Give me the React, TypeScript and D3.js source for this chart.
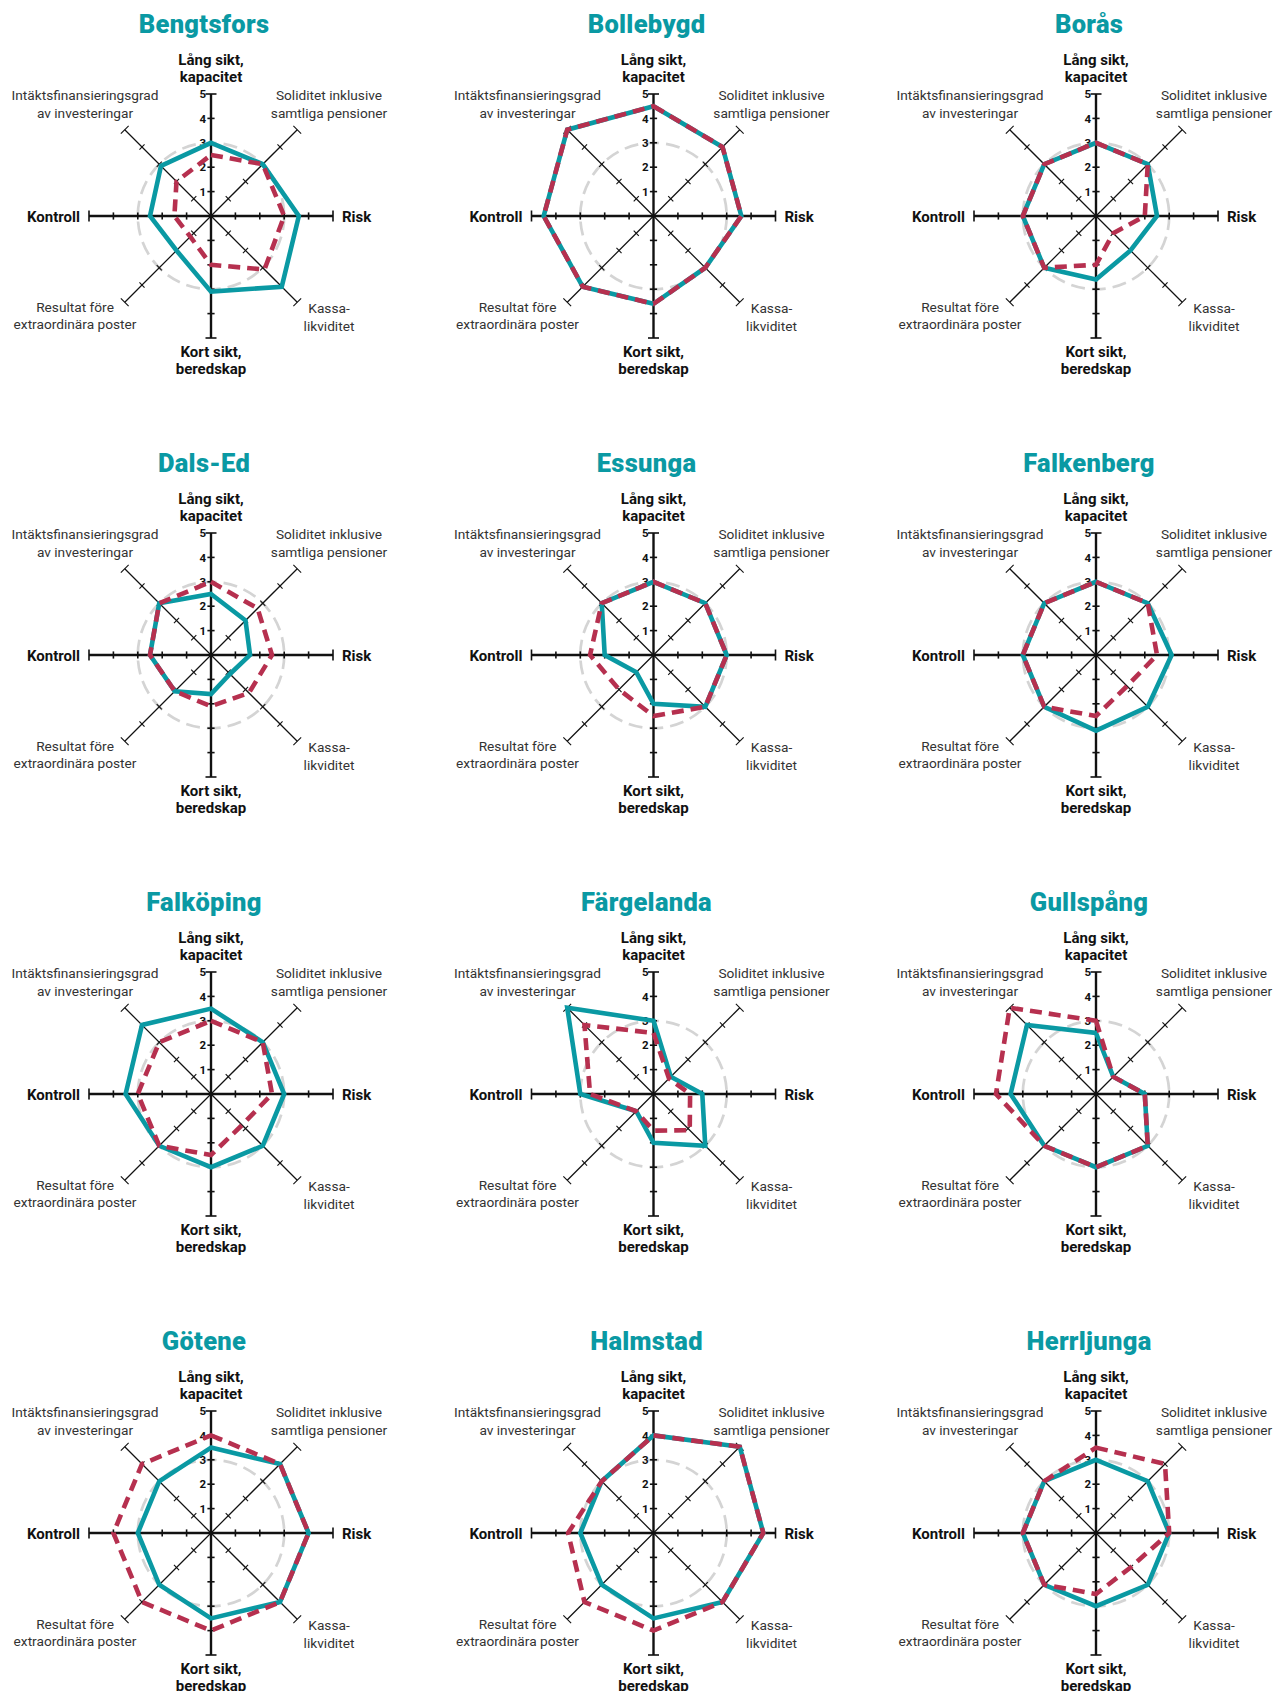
import React from 'react';
import * as d3 from 'd3';

// ---------- DATA ----------
const kommuner: string[] = [
  'Bengtsfors', 'Bollebygd', 'Borås',
  'Dals-Ed', 'Essunga', 'Falkenberg',
  'Falköping', 'Färgelanda', 'Gullspång',
  'Götene', 'Halmstad', 'Herrljunga',
];

// clockwise from top
const axisLabels: string[][] = [
  ['Lång sikt,', 'kapacitet'],
  ['Soliditet inklusive', 'samtliga pensioner'],
  ['Risk'],
  ['Kassa-', 'likviditet'],
  ['Kort sikt,', 'beredskap'],
  ['Resultat före', 'extraordinära poster'],
  ['Kontroll'],
  ['Intäktsfinansieringsgrad', 'av investeringar'],
];
const mainAxis: boolean[] = [true, false, true, false, true, false, true, false];

const tickValues: number[] = [1, 2, 3, 4, 5];
const referenceLevel = 3;
const maxValue = 5;

// solid teal series
const serieKommun: number[][] = [
  [3.0, 3.0, 3.6, 4.1, 3.1, 2.0, 2.5, 2.9], // Bengtsfors
  [4.5, 4.0, 3.6, 3.0, 3.6, 4.1, 4.5, 5.0], // Bollebygd
  [3.0, 3.0, 2.5, 2.0, 2.6, 3.0, 3.0, 3.0], // Borås
  [2.5, 2.0, 1.6, 1.1, 1.6, 2.1, 2.5, 3.0], // Dals-Ed
  [3.0, 3.0, 3.0, 3.0, 2.0, 1.0, 2.0, 3.0], // Essunga
  [3.0, 3.0, 3.1, 3.0, 3.1, 3.0, 3.0, 3.0], // Falkenberg
  [3.5, 3.0, 3.0, 3.0, 3.0, 3.0, 3.5, 4.0], // Falköping
  [3.0, 1.0, 2.0, 3.0, 2.0, 1.0, 3.0, 5.0], // Färgelanda
  [2.5, 1.0, 2.0, 3.0, 3.0, 3.0, 3.5, 4.0], // Gullspång
  [3.5, 4.0, 4.0, 4.0, 3.5, 3.0, 3.0, 3.0], // Götene
  [4.0, 5.0, 4.5, 4.0, 3.5, 3.0, 3.0, 3.0], // Halmstad
  [3.0, 3.0, 3.0, 3.0, 3.0, 3.0, 3.0, 3.0], // Herrljunga
];

// dashed red series
const serieJamforelse: number[][] = [
  [2.5, 3.0, 3.0, 3.1, 2.0, 1.2, 1.5, 2.0], // Bengtsfors
  [4.5, 4.0, 3.6, 3.0, 3.6, 4.1, 4.5, 5.0], // Bollebygd
  [3.0, 3.0, 2.0, 1.0, 2.0, 3.0, 3.0, 3.0], // Borås
  [3.0, 2.7, 2.5, 2.2, 2.1, 2.1, 2.5, 3.0], // Dals-Ed
  [3.0, 3.0, 3.0, 3.0, 2.5, 2.0, 2.6, 3.0], // Essunga
  [3.0, 3.0, 2.5, 1.8, 2.5, 3.0, 3.0, 3.0], // Falkenberg
  [3.0, 3.0, 2.5, 1.8, 2.5, 3.0, 3.0, 3.0], // Falköping
  [2.5, 0.9, 1.5, 2.1, 1.5, 1.0, 2.6, 4.0], // Färgelanda
  [3.0, 1.0, 2.0, 3.0, 3.0, 3.0, 4.1, 5.0], // Gullspång
  [4.0, 4.0, 4.0, 4.0, 4.0, 4.0, 4.0, 4.0], // Götene
  [4.0, 5.0, 4.5, 4.0, 4.0, 4.0, 3.5, 3.0], // Halmstad
  [3.5, 4.0, 3.0, 2.0, 2.5, 3.0, 3.0, 3.0], // Herrljunga
];

// ---------- LAYOUT ----------
const W = 1274;
const H = 1691;
const colX = [211, 653.5, 1096];
const rowY = [216, 655, 1094, 1533];
const R = 122;

const TEAL = '#0a99a3';
const RED = '#b6304f';
const FONT = 'Roboto, "Open Sans", sans-serif';

// label placement relative to the chart centre
const labelPlace = [
  { x: 0, y: -151, anchor: 'middle' },
  { x: 118, y: -116, anchor: 'middle' },
  { x: 131, y: 5.5, anchor: 'start' },
  { x: 118, y: 97, anchor: 'middle' },
  { x: 0, y: 141, anchor: 'middle' },
  { x: -136, y: 95.7, anchor: 'middle' },
  { x: -131, y: 5.5, anchor: 'end' },
  { x: -126, y: -116, anchor: 'middle' },
];

const rScale = d3.scaleLinear().domain([0, maxValue]).range([0, R]);
const angleScale = d3
  .scaleLinear()
  .domain([0, axisLabels.length])
  .range([0, 2 * Math.PI]);

const radial = d3
  .lineRadial<number>()
  .angle((_d, i) => angleScale(i))
  .radius((d) => rScale(d))
  .curve(d3.curveLinearClosed);

function Radar({ idx }: { idx: number }) {
  const cx = colX[idx % 3];
  const cy = rowY[Math.floor(idx / 3)];
  return (
    <g transform={`translate(${cx},${cy})`}>
      <text
        x={-7}
        y={-183}
        textAnchor="middle"
        fontFamily={FONT}
        fontWeight={900}
        fontSize={25.5}
        letterSpacing={0.3}
        fill={TEAL}
      >
        {kommuner[idx]}
      </text>

      {/* reference circle */}
      <circle
        r={rScale(referenceLevel)}
        fill="none"
        stroke="#d4d4d4"
        strokeWidth={2.7}
        strokeDasharray="14 7"
      />

      {/* axes */}
      {axisLabels.map((_l, i) => {
        const a = angleScale(i);
        const ux = Math.sin(a);
        const uy = -Math.cos(a);
        const px = Math.cos(a);
        const py = Math.sin(a);
        const sw = mainAxis[i] ? 2.4 : 1.25;
        return (
          <g key={i}>
            <line
              x1={0}
              y1={0}
              x2={ux * rScale(maxValue)}
              y2={uy * rScale(maxValue)}
              stroke="#111"
              strokeWidth={sw}
            />
            {tickValues.map((t) => {
              const len = t === maxValue ? 5.5 : 3.6;
              const bx = ux * rScale(t);
              const by = uy * rScale(t);
              return (
                <line
                  key={t}
                  x1={bx - px * len}
                  y1={by - py * len}
                  x2={bx + px * len}
                  y2={by + py * len}
                  stroke="#111"
                  strokeWidth={mainAxis[i] ? 1.6 : 1.1}
                />
              );
            })}
          </g>
        );
      })}

      {/* tick labels on the top axis */}
      {tickValues.map((t) => (
        <text
          key={t}
          x={-5}
          y={-rScale(t)}
          dy="0.36em"
          textAnchor="end"
          fontFamily={FONT}
          fontWeight={700}
          fontSize={11.5}
          fill="#111"
        >
          {t}
        </text>
      ))}

      {/* series */}
      <path
        d={radial(serieKommun[idx]) || ''}
        fill="none"
        stroke={TEAL}
        strokeWidth={4.6}
        strokeLinejoin="miter"
      />
      <path
        d={radial(serieJamforelse[idx]) || ''}
        fill="none"
        stroke={RED}
        strokeWidth={4.6}
        strokeDasharray="12 7"
        strokeLinejoin="miter"
      />

      {/* axis labels */}
      {axisLabels.map((lines, i) => {
        const p = labelPlace[i];
        const bold = mainAxis[i];
        return (
          <text
            key={i}
            x={p.x}
            y={p.y}
            textAnchor={p.anchor as any}
            fontFamily={FONT}
            fontWeight={bold ? 700 : 400}
            fontSize={bold ? 15 : 13.7}
            fill={bold ? '#111' : '#333'}
          >
            {lines.map((ln, j) => (
              <tspan key={j} x={p.x} dy={j === 0 ? 0 : bold ? 16.7 : 17.6}>
                {ln}
              </tspan>
            ))}
          </text>
        );
      })}
    </g>
  );
}

export default function App() {
  return (
    <div style={{ position: 'absolute', left: 0, top: 0 }}>
      <svg width={W} height={H} viewBox={`0 0 ${W} ${H}`} style={{ display: 'block', background: '#fff' }}>
        <rect width={W} height={H} fill="#fff" />
        {kommuner.map((_k, i) => (
          <Radar key={i} idx={i} />
        ))}
      </svg>
    </div>
  );
}
